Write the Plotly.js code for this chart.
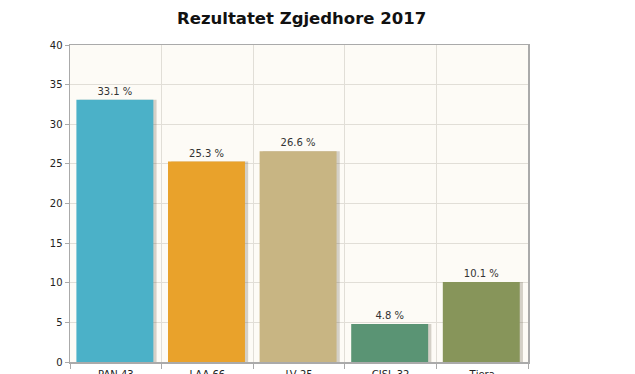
<!DOCTYPE html>
<html>
<head>
<meta charset="utf-8">
<script src="https://cdn.plot.ly/plotly-3.0.1.min.js"></script>
<style>
html,body{margin:0;padding:0;background:#fff;}
#chart{width:635px;height:374px;}
</style>
</head>
<body>
<div id="chart"></div>
<script>
const categories = ["PAN 43", "LAA 66", "LV 25", "CISL 32", "Tjera"];
const values = [33.1, 25.3, 26.6, 4.8, 10.1];
const labels = ["33.1 %", "25.3 %", "26.6 %", "4.8 %", "10.1 %"];
const colors = ["#4bb1c8", "#e9a22b", "#c8b583", "#5a9474", "#87955a"];
const yTicks = [0, 5, 10, 15, 20, 25, 30, 35, 40];

const shadow = {
  type: "bar",
  x: categories,
  y: values,
  width: 0.84,
  offset: -0.395,
  marker: {color: "rgba(90,80,60,0.25)", line: {width: 0}},
  hoverinfo: "skip",
  showlegend: false
};
const bars = {
  type: "bar",
  x: categories,
  y: values,
  width: 0.84,
  offset: -0.43,
  marker: {color: colors, line: {width: 0}},
  text: labels,
  textposition: "outside",
  cliponaxis: false,
  textfont: {family: "DejaVu Sans, Verdana, sans-serif", size: 10, color: "#333"},
  showlegend: false
};

const layout = {
  width: 635,
  height: 374,
  margin: {l: 70, r: 107, t: 45, b: 12},
  paper_bgcolor: "#ffffff",
  plot_bgcolor: "#fdfbf6",
  barmode: "overlay",
  title: {
    text: "<b>Rezultatet Zgjedhore 2017</b>",
    font: {family: "DejaVu Sans, Verdana, sans-serif", size: 16.5, color: "#111"},
    x: 0.475, xanchor: "center", y: 0.952, yanchor: "middle"
  },
  xaxis: {
    type: "category",
    tickson: "boundaries",
    ticks: "outside",
    ticklen: 5,
    tickcolor: "#aaa",
    showgrid: true,
    gridcolor: "#e1ded7",
    showline: true,
    linecolor: "#aaa",
    linewidth: 1.5,
    mirror: true,
    ticklabelstandoff: 2,
    tickfont: {family: "DejaVu Sans, Verdana, sans-serif", size: 10, color: "#222"},
    automargin: false,
    fixedrange: true
  },
  yaxis: {
    range: [0, 40],
    tickvals: yTicks,
    ticks: "outside",
    ticklen: 4,
    tickcolor: "#aaa",
    showgrid: true,
    gridcolor: "#e1ded7",
    zeroline: false,
    showline: true,
    linecolor: "#aaa",
    linewidth: 1.5,
    mirror: true,
    tickfont: {family: "DejaVu Sans, Verdana, sans-serif", size: 10, color: "#222"},
    automargin: false,
    fixedrange: true
  }
};

Plotly.newPlot("chart", [shadow, bars], layout, {staticPlot: true});
</script>
</body>
</html>
